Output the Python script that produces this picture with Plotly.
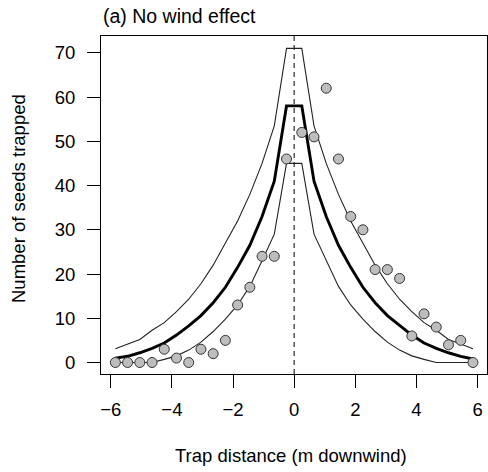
import plotly.graph_objects as go

# Trap positions (m downwind)
trap_x = [-5.85, -5.45, -5.05, -4.65, -4.25, -3.85, -3.45, -3.05, -2.65, -2.25,
          -1.85, -1.45, -1.05, -0.65, -0.25, 0.25, 0.65, 1.05, 1.45, 1.85,
          2.25, 2.65, 3.05, 3.45, 3.85, 4.25, 4.65, 5.05, 5.45, 5.85]

# Observed seeds trapped
seeds = [0, 0, 0, 0, 3, 1, 0, 3, 2, 5,
         13, 17, 24, 24, 46, 52, 51, 62, 46, 33,
         30, 21, 21, 19, 6, 11, 8, 4, 5, 0]

# Model mean and envelope
mean_pred = [1.0, 1.4, 2.2, 3.2, 4.4, 6.2, 8.3, 10.6, 13.5, 17.0,
             21.5, 26.5, 33.0, 41.0, 58.0, 58.0, 41.0, 33.0, 26.5, 21.5,
             17.0, 13.5, 10.6, 8.3, 6.2, 4.4, 3.2, 2.2, 1.4, 0.8]
upper_pred = [3.1, 4.2, 5.2, 7.3, 9.0, 11.5, 14.3, 17.8, 22.0, 27.0,
              32.0, 38.0, 45.0, 53.5, 71.0, 71.0, 53.5, 45.0, 38.0, 32.0,
              27.0, 22.0, 17.8, 14.3, 11.5, 9.0, 7.3, 5.2, 4.2, 3.1]
lower_pred = [0.0, 0.0, 0.0, 0.0, 0.7, 1.5, 2.8, 4.6, 7.0, 9.8,
              13.0, 17.2, 23.0, 29.0, 45.0, 45.0, 29.0, 23.0, 17.2, 13.0,
              9.8, 7.0, 4.6, 2.8, 1.5, 0.7, 0.0, 0.0, 0.0, 0.0]

x_ticks = [-6, -4, -2, 0, 2, 4, 6]
y_ticks = [0, 10, 20, 30, 40, 50, 60, 70]

FONT = "Liberation Sans, Arial, sans-serif"
FS = 18.5

fig = go.Figure()
fig.add_trace(go.Scatter(x=trap_x, y=upper_pred, mode="lines",
                         line=dict(color="#222222", width=1.1), showlegend=False))
fig.add_trace(go.Scatter(x=trap_x, y=lower_pred, mode="lines",
                         line=dict(color="#222222", width=1.1), showlegend=False))
fig.add_trace(go.Scatter(x=trap_x, y=mean_pred, mode="lines",
                         line=dict(color="black", width=2.9), showlegend=False))
fig.add_trace(go.Scatter(x=trap_x, y=seeds, mode="markers",
                         marker=dict(size=10, color="#BDBDBD",
                                     line=dict(color="#333333", width=1)),
                         showlegend=False))

fig.add_shape(type="line", xref="x", yref="paper", x0=0, x1=0, y0=0, y1=1,
              line=dict(color="black", width=1, dash="5px,4px"), layer="below")

axis_common = dict(showgrid=False, zeroline=False, showline=True, mirror=True,
                   linecolor="black", linewidth=1, ticks="outside", ticklen=13,
                   tickcolor="black", tickwidth=1,
                   tickfont=dict(family=FONT, size=FS, color="black"))

fig.update_xaxes(range=[-6.32, 6.31], tickvals=x_ticks, ticklabelstandoff=6, **axis_common)
fig.update_yaxes(range=[-2.6, 73.8], tickvals=y_ticks, ticklabelstandoff=8, **axis_common)

fig.add_annotation(text="(a) No wind effect", xref="paper", yref="paper",
                   x=0, y=1, xanchor="left", yanchor="bottom", yshift=7,
                   showarrow=False, font=dict(family=FONT, size=19.5, color="black"))
fig.add_annotation(text="Trap distance (m downwind)", xref="paper", yref="paper",
                   x=0.5, y=0, xanchor="center", yanchor="middle", yshift=-81,
                   xshift=-3, showarrow=False,
                   font=dict(family=FONT, size=FS, color="black"))
fig.add_annotation(text="Number of seeds trapped", xref="paper", yref="paper",
                   x=0, y=0.5, xanchor="center", yanchor="middle", xshift=-83,
                   yshift=6, textangle=-90, showarrow=False,
                   font=dict(family=FONT, size=FS, color="black"))

fig.update_layout(width=488, height=472,
                  margin=dict(l=101, r=1, t=36, b=98),
                  paper_bgcolor="white", plot_bgcolor="white",
                  font=dict(family=FONT, size=FS, color="black"))

fig.write_html("out.html")
